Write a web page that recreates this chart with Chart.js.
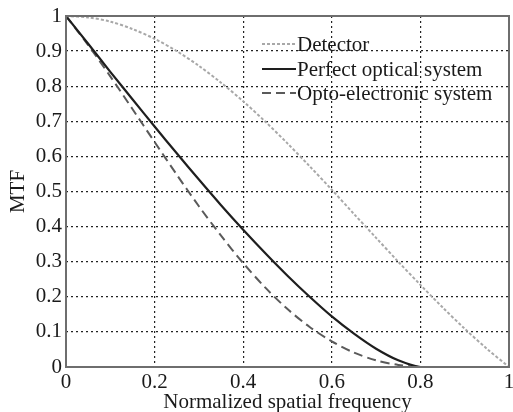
<!DOCTYPE html>
<html>
<head>
<meta charset="utf-8">
<script src="https://cdn.jsdelivr.net/npm/chart.js@4/dist/chart.umd.min.js"></script>
<style>
  html, body { margin: 0; padding: 0; background: #fff; }
  #wrap { width: 513px; height: 412px; }
</style>
</head>
<body>
<div id="wrap"><canvas id="mtfChart" width="513" height="412"></canvas></div>
<script>
'use strict';

// ── Data ──────────────────────────────────────────────────────
const freqs      = [0, 0.05, 0.1, 0.15, 0.2, 0.25, 0.3, 0.35, 0.4, 0.45, 0.5, 0.55, 0.6, 0.65, 0.7, 0.75, 0.8, 0.85, 0.9, 0.95, 1];
const detector   = [1, 0.996, 0.984, 0.963, 0.935, 0.900, 0.858, 0.810, 0.757, 0.699, 0.637, 0.572, 0.505, 0.436, 0.368, 0.300, 0.234, 0.170, 0.109, 0.052, 0];
const perfect    = [1, 0.921, 0.841, 0.763, 0.685, 0.609, 0.534, 0.461, 0.391, 0.324, 0.260, 0.200, 0.144, 0.095, 0.052, 0.019, 0, 0, 0, 0, 0];
const optoElec   = [1, 0.917, 0.828, 0.735, 0.641, 0.548, 0.458, 0.374, 0.296, 0.226, 0.165, 0.114, 0.073, 0.041, 0.019, 0.006, 0, 0, 0, 0, 0];
const seriesNames = ['Detector', 'Perfect optical system', 'Opto-electronic system'];

const FONT = '"Liberation Serif", "Times New Roman", serif';
const pts  = ys => freqs.map((x, i) => ({ x, y: ys[i] }));
const fmt  = v => String(+Number(v).toFixed(1));

// frame around the plot + legend inside the plot area
const frameAndLegend = {
    id: 'frameAndLegend',
    afterDatasetsDraw(chart) {
        const { ctx, chartArea: a } = chart;
        ctx.save();
        ctx.strokeStyle = '#6e6e6e';
        ctx.lineWidth = 2;
        ctx.setLineDash([]);
        ctx.strokeRect(a.left, a.top, a.right - a.left, a.bottom - a.top);

        ctx.font = '21px ' + FONT;
        ctx.textBaseline = 'middle';
        ctx.fillStyle = '#1a1a1a';
        const x0 = 262, x1 = 296, rows = [44, 69, 93];
        chart.data.datasets.forEach((ds, i) => {
            ctx.strokeStyle = ds.borderColor;
            ctx.lineWidth = ds.borderWidth;
            ctx.setLineDash(ds.borderDash || []);
            ctx.beginPath();
            ctx.moveTo(x0, rows[i]);
            ctx.lineTo(x1, rows[i]);
            ctx.stroke();
            ctx.fillText(ds.label, x1 + 1, rows[i] + 1);
        });
        ctx.restore();
    }
};

new Chart(document.getElementById('mtfChart').getContext('2d'), {
    type: 'line',
    data: {
        datasets: [
            { label: seriesNames[0], data: pts(detector), borderColor: '#a8a8a8', borderWidth: 2, borderDash: [3, 2], pointRadius: 0, tension: 0.3 },
            { label: seriesNames[1], data: pts(perfect),  borderColor: '#1e1e1e', borderWidth: 2.2, pointRadius: 0, tension: 0.3 },
            { label: seriesNames[2], data: pts(optoElec), borderColor: '#5a5a5a', borderWidth: 2, borderDash: [9, 5], pointRadius: 0, tension: 0.3 }
        ]
    },
    options: {
        responsive: false,
        animation: false,
        layout: { padding: { top: 16, right: 4, left: 0, bottom: 0 } },
        plugins: { legend: { display: false }, tooltip: { enabled: false } },
        scales: {
            x: {
                type: 'linear', min: 0, max: 1,
                ticks: { stepSize: 0.2, color: '#1a1a1a', font: { family: FONT, size: 21 }, padding: 3, maxRotation: 0, callback: fmt },
                grid: { color: '#222', lineWidth: 1.2, drawTicks: false },
                border: { display: false, dash: [2, 3] },
                title: { display: true, text: 'Normalized spatial frequency', color: '#1a1a1a', font: { family: FONT, size: 21, lineHeight: 0.9 }, padding: { top: 0, bottom: 0 } },
                afterFit: s => { s.height = 45; s.paddingLeft = 0; s.paddingRight = 0; }
            },
            y: {
                min: 0, max: 1,
                ticks: { stepSize: 0.1, color: '#1a1a1a', font: { family: FONT, size: 21 }, padding: 4, callback: fmt },
                grid: { color: '#222', lineWidth: 1.2, drawTicks: false },
                border: { display: false, dash: [2, 3] },
                title: { display: true, text: 'MTF', color: '#1a1a1a', font: { family: FONT, size: 21 }, padding: { top: 6, bottom: 0 } },
                afterFit: s => { s.width = 66; s.paddingTop = 0; s.paddingBottom = 0; }
            }
        }
    },
    plugins: [frameAndLegend]
});
</script>
</body>
</html>
